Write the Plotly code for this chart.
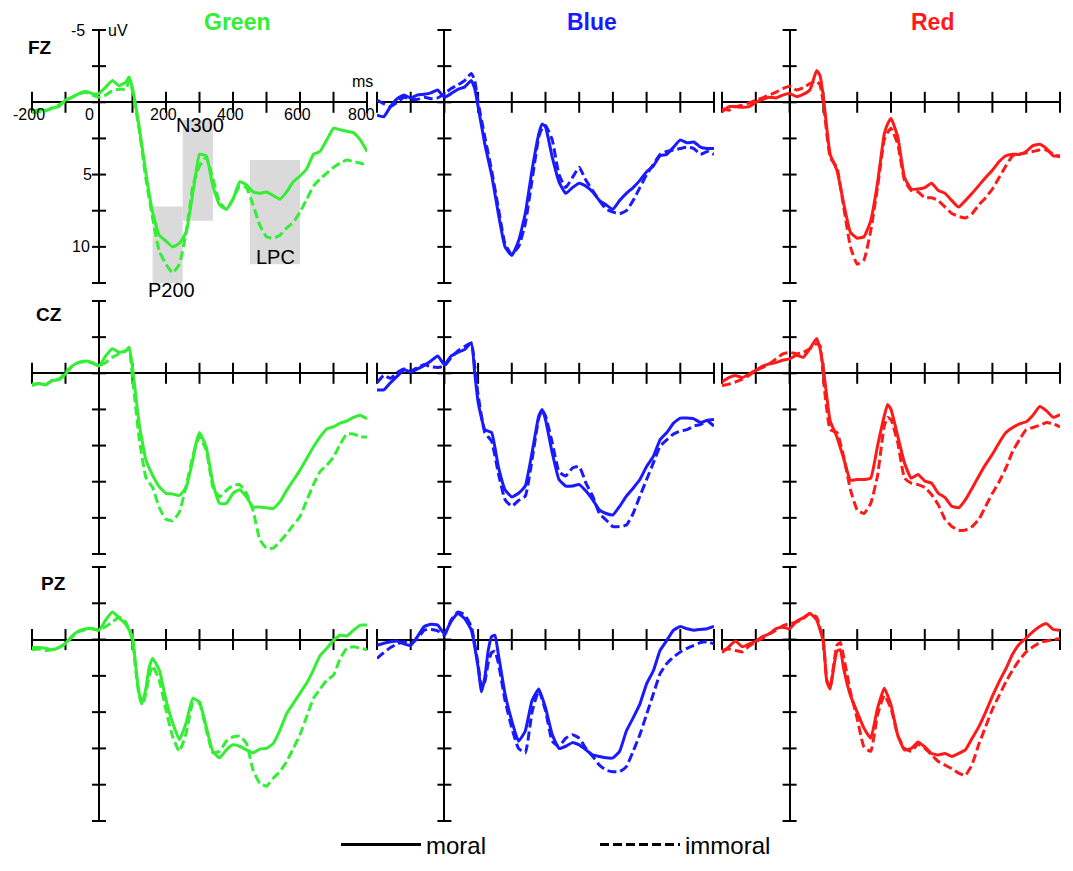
import plotly.graph_objects as go

# ---------------- data (µV, negative plotted upward) ----------------
T_FZ = [-200, -180, -160, -140, -120, -100, -80, -60, -40, -20, 0, 20, 40, 60, 80, 90,
        100, 120, 140, 160, 180, 200, 220, 240, 260, 280, 290,
        300, 320, 340, 360, 380, 400, 420, 440, 460, 480, 500, 520, 540, 560, 580,
        600, 620, 640, 660, 680, 700, 720, 740, 760, 780, 800]
T_CZ = [-200, -180, -160, -140, -120, -100, -80, -60, -40, -20, 0, 20, 40, 60, 80, 90,
        100, 120, 140, 160, 180, 200, 220, 240, 260, 280, 290,
        300, 320, 340, 360, 380, 400, 420, 440, 460, 480, 500, 520, 540, 560, 580,
        600, 620, 640, 660, 680, 700, 720, 740, 760, 780, 800]
T_PZ = [-200, -180, -160, -140, -120, -100, -80, -60, -40, -20, 0, 20, 40, 60, 80, 100,
        110, 120, 130, 140, 150, 160,
        180, 200, 220, 240, 260, 280, 300, 320, 340, 360, 380, 400, 420, 440, 460, 480,
        500, 520, 540, 560, 580, 600, 620, 640, 660, 680, 700, 720, 740, 760, 780, 800]

FZ_GREEN_MORAL = [0.7, 0.5, 0.55, 0.4, 0.3, -0.15, -0.35, -0.6, -0.75, -0.6, -0.6, -1.05, -1.5, -1.15, -1.4, -1.75,
                  -0.95, 1.7, 4.9, 7.6, 9.2, 9.6, 10.0, 9.75, 9.0, 6.3, 4.8,
                  3.6, 3.7, 5.8, 7.1, 7.4, 6.7, 5.5, 5.7, 6.2, 6.3, 6.2, 6.45, 6.7, 6.2, 5.5,
                  5.1, 4.6, 3.6, 3.4, 2.6, 1.8, 1.9, 2.0, 2.1, 2.6, 3.4]
FZ_GREEN_IMMORAL = [0.7, 0.65, 0.6, 0.4, 0.2, -0.1, -0.35, -0.6, -0.7, -0.5, -0.35, -0.5, -0.8, -0.9, -0.9, -1.5,
                    -0.8, 1.9, 5.3, 8.0, 10.3, 11.2, 11.8, 11.2, 9.0, 5.8, 5.0,
                    4.4, 3.8, 5.3, 6.9, 7.4, 6.7, 5.8, 5.9, 7.1, 8.5, 9.3, 9.4, 9.2, 8.7, 8.3,
                    7.6, 6.7, 5.8, 5.3, 4.9, 4.5, 4.2, 4.0, 4.1, 4.2, 4.4]
FZ_BLUE_MORAL = [0.9, 1.0, 0.3, -0.25, -0.5, -0.3, -0.5, -0.55, -0.65, -0.85, -0.35, -0.6, -0.9, -1.05, -1.5, -0.95,
                 0.3, 2.9, 5.0, 7.7, 10.0, 10.6, 9.6, 7.7, 4.7, 2.2, 1.5,
                 1.7, 3.8, 5.5, 6.3, 5.9, 5.6, 5.8, 6.2, 6.8, 7.1, 7.4, 6.8, 6.3, 5.9, 5.4,
                 4.8, 4.4, 3.7, 3.6, 3.1, 2.6, 2.8, 2.75, 3.1, 3.2, 3.2]
FZ_BLUE_IMMORAL = [-0.15, 0.1, 0.3, 0.0, -0.35, -0.2, -0.2, -0.35, -0.25, -0.3, -0.6, -0.95, -1.2, -1.5, -2.0, -1.5,
                   0.0, 2.4, 4.7, 7.3, 9.8, 10.5, 10.0, 8.4, 5.4, 2.4, 1.8,
                   1.6, 2.6, 5.0, 5.9, 5.2, 4.5, 5.4, 6.1, 6.8, 7.4, 7.6, 7.7, 7.5, 6.8, 5.9,
                   5.0, 4.3, 3.6, 3.4, 3.3, 3.2, 3.1, 3.2, 3.6, 3.4, 3.6]
FZ_RED_MORAL = [0.67, 0.3, 0.3, 0.35, 0.3, 0.0, -0.2, -0.35, -0.3, -0.5, -0.6, -0.4, -0.55, -0.85, -2.2, -1.85,
                -0.35, 3.6, 4.7, 7.0, 9.0, 9.4, 9.3, 8.2, 5.6, 2.2, 1.5,
                1.1, 2.4, 5.2, 6.0, 6.0, 5.9, 5.6, 6.1, 6.3, 6.8, 7.25, 6.8, 6.3, 5.75, 5.2,
                4.7, 4.1, 3.7, 3.6, 3.6, 3.4, 3.0, 2.9, 3.2, 3.7, 3.7]
FZ_RED_IMMORAL = [0.45, 0.55, 0.3, 0.2, 0.05, -0.15, -0.3, -0.5, -0.7, -0.95, -1.1, -0.85, -1.0, -1.3, -1.45, -1.2,
                  0.1, 3.8, 4.5, 7.25, 10.0, 11.2, 10.9, 8.9, 5.9, 2.6, 2.1,
                  1.8, 2.9, 5.4, 6.1, 6.2, 6.6, 6.6, 6.8, 7.25, 7.7, 7.9, 8.0, 7.7, 7.1, 6.6,
                  6.0, 5.2, 4.4, 3.7, 3.6, 3.5, 3.4, 3.3, 3.3, 3.6, 3.8]

CZ_GREEN_MORAL = [0.75, 0.7, 0.8, 0.5, 0.45, 0.05, -0.5, -0.75, -0.85, -0.75, -0.5, -1.2, -1.7, -1.45, -1.55, -1.8,
                  -0.4, 3.5, 6.0, 7.05, 7.85, 8.3, 8.35, 8.45, 7.9, 6.0, 4.8,
                  4.1, 5.1, 7.6, 9.0, 9.0, 8.3, 8.05, 8.55, 9.25, 9.25, 9.3, 9.35, 8.9, 8.1, 7.4,
                  6.7, 5.9, 5.1, 4.4, 3.85, 3.7, 3.45, 3.3, 3.05, 2.9, 3.15]
CZ_GREEN_IMMORAL = [0.85, 0.7, 0.8, 0.5, 0.4, -0.05, -0.5, -0.75, -0.8, -0.7, -0.5, -0.75, -1.1, -1.35, -1.55, -1.7,
                    0.3, 4.5, 7.2, 7.9, 9.3, 10.1, 10.2, 9.6, 7.8, 5.75, 4.9,
                    4.4, 5.3, 7.85, 8.55, 8.1, 7.75, 7.7, 8.3, 9.5, 11.5, 12.1, 12.1, 11.65, 11.1, 10.5,
                    9.9, 8.8, 7.7, 6.8, 6.35, 5.8, 4.9, 4.2, 4.2, 4.4, 4.4]
CZ_BLUE_MORAL = [1.15, 1.15, 0.65, 0.2, -0.25, -0.1, -0.3, -0.55, -0.85, -1.2, -0.6, -1.2, -1.45, -1.65, -2.1, 0.0,
                 2.0, 3.9, 4.1, 6.45, 8.05, 8.55, 8.3, 7.8, 5.5, 2.95, 2.5,
                 3.2, 5.5, 7.35, 7.8, 7.8, 7.7, 8.15, 8.75, 9.45, 9.7, 9.8, 9.2, 8.5, 7.95, 7.35,
                 6.45, 5.75, 4.6, 4.1, 3.45, 3.1, 3.1, 3.15, 3.4, 3.25, 3.2]
CZ_BLUE_IMMORAL = [0.65, 0.15, 0.35, -0.05, -0.3, -0.15, -0.4, -0.6, -0.45, -0.4, -0.5, -1.1, -1.55, -1.85, -2.1, -0.5,
                   1.5, 4.1, 4.7, 6.9, 8.75, 9.2, 8.8, 8.5, 6.0, 3.1, 2.55,
                   2.95, 4.8, 6.8, 7.1, 6.55, 6.45, 7.6, 8.5, 9.7, 10.15, 10.6, 10.6, 10.5, 9.7, 8.5,
                   7.35, 6.2, 5.05, 4.6, 4.2, 4.0, 3.9, 3.65, 3.55, 3.3, 3.65]
CZ_RED_MORAL = [0.6, 0.3, 0.15, 0.3, 0.05, -0.2, -0.5, -0.65, -0.75, -0.9, -1.0, -1.25, -1.1, -1.7, -2.4, -1.7,
                -0.3, 3.3, 4.4, 5.9, 7.4, 7.35, 7.35, 7.25, 5.05, 2.95, 2.15,
                2.5, 4.35, 6.2, 7.25, 7.0, 7.45, 7.6, 8.3, 8.6, 9.2, 9.3, 8.75, 7.95, 7.1, 6.3,
                5.6, 4.8, 4.1, 3.75, 3.5, 3.35, 2.9, 2.3, 2.6, 3.05, 2.85]
CZ_RED_IMMORAL = [0.85, 0.75, 0.6, 0.4, 0.15, -0.2, -0.4, -0.65, -1.0, -1.35, -1.45, -1.35, -1.45, -1.7, -2.05, -1.9,
                  0.4, 3.9, 4.1, 5.75, 8.05, 9.45, 9.7, 9.0, 7.1, 3.65, 3.05,
                  3.2, 4.8, 7.25, 7.6, 7.7, 7.9, 8.4, 9.1, 10.1, 10.6, 10.85, 10.85, 10.6, 10.1, 9.2,
                  8.3, 7.5, 6.55, 5.4, 4.6, 3.9, 3.75, 3.6, 3.4, 3.5, 3.7]

PZ_GREEN_MORAL = [0.55, 0.55, 0.6, 0.7, 0.55, 0.25, -0.25, -0.6, -0.75, -0.75, -0.65, -1.35, -1.9, -1.5, -1.05, -0.2,
                  1.9, 3.7, 4.3, 3.35, 1.9, 1.3,
                  2.1, 4.15, 5.75, 6.9, 5.75, 4.05, 4.3, 6.0, 7.7, 8.15, 7.6, 7.25, 7.35, 7.6, 7.8, 7.55,
                  7.5, 7.15, 6.25, 5.1, 4.4, 3.7, 3.0, 2.1, 1.1, 0.6, 0.05, -0.3, -0.25, -0.65, -1.0, -1.0]
PZ_GREEN_IMMORAL = [0.7, 0.65, 0.75, 0.7, 0.55, 0.3, -0.2, -0.55, -0.7, -0.75, -0.65, -0.9, -1.2, -1.55, -1.2, 0.05,
                    2.2, 3.9, 4.5, 3.7, 2.5, 1.8,
                    2.8, 4.85, 6.7, 7.7, 6.45, 4.4, 4.4, 6.2, 7.8, 7.7, 7.0, 6.7, 6.65, 7.15, 9.0, 9.9,
                    10.1, 9.55, 9.1, 8.4, 7.5, 6.55, 5.3, 4.05, 3.4, 2.8, 2.45, 1.3, 0.6, 0.5, 0.6, 0.7]
PZ_BLUE_MORAL = [0.4, 0.25, 0.15, 0.1, 0.3, 0.4, -0.2, -0.9, -1.05, -1.0, -0.4, -1.25, -1.8, -1.45, -0.65, 1.9,
                 3.6, 2.6, 0.75, -0.2, -0.3, 1.0,
                 3.75, 5.6, 7.0, 6.3, 4.2, 3.4, 4.7, 6.55, 7.5, 7.35, 7.1, 7.25, 7.6, 7.95, 8.05, 8.15,
                 8.15, 7.7, 6.3, 5.4, 4.45, 3.05, 2.15, 0.75, 0.05, -0.65, -0.9, -0.75, -0.65, -0.7, -0.75, -0.9]
PZ_BLUE_IMMORAL = [1.3, 0.9, 0.55, 0.3, 0.15, 0.25, -0.05, -0.65, -0.7, -0.6, -0.3, -1.35, -1.9, -1.7, -0.9, 1.7,
                   3.3, 2.9, 1.6, 0.9, 0.8, 1.6,
                   4.2, 6.1, 7.5, 7.8, 5.0, 3.5, 4.9, 7.0, 7.35, 6.8, 6.55, 6.8, 7.5, 8.05, 8.65, 9.0,
                   9.1, 9.1, 8.75, 7.7, 6.55, 5.15, 3.75, 2.35, 1.65, 1.2, 0.85, 0.6, 0.4, 0.2, 0.15, 0.3]
PZ_RED_MORAL = [0.9, 0.5, 0.1, 0.5, 0.3, 0.1, -0.2, -0.4, -0.75, -0.85, -0.75, -1.25, -1.5, -1.8, -1.35, 0.15,
                2.9, 3.4, 2.0, 0.8, 0.7, 2.0,
                3.85, 5.0, 6.1, 6.8, 4.75, 3.35, 4.5, 6.6, 7.6, 7.5, 7.05, 7.4, 7.85, 7.95, 7.85, 8.05,
                7.85, 7.6, 6.8, 6.0, 5.0, 3.9, 2.9, 2.0, 1.0, 0.3, -0.1, -0.55, -0.9, -1.1, -0.7, -0.65]
PZ_RED_IMMORAL = [0.75, 0.65, 0.75, 0.85, 0.45, 0.15, -0.1, -0.4, -0.65, -0.95, -1.1, -1.2, -1.45, -1.8, -1.55, 0.2,
                  2.8, 3.3, 1.8, 0.4, 0.2, 1.2,
                  3.6, 5.45, 7.4, 7.7, 5.2, 3.85, 4.75, 6.6, 7.5, 7.7, 7.2, 7.5, 7.95, 8.4, 8.65, 8.9,
                  9.2, 9.35, 8.6, 7.2, 6.0, 4.8, 3.85, 2.9, 2.1, 1.4, 0.85, 0.5, 0.2, 0.1, 0.0, -0.05]

COLUMNS = ["Green", "Blue", "Red"]
SITES = ["FZ", "CZ", "PZ"]
CONDITIONS = ["moral", "immoral"]
X_TICKS = [-200, -100, 0, 100, 200, 300, 400, 500, 600, 700, 800]
Y_TICKS = [-5, -2.5, 0, 2.5, 5, 7.5, 10, 12.5]
X_TICK_LABELS = [-200, 0, 200, 400, 600, 800]
Y_TICK_LABELS = [-5, 5, 10]
# ERP components: (label, t0, t1, v0, v1)
COMPONENTS = [("P200", 160, 250, 7.2, 12.8), ("N300", 250, 340, 1.2, 8.2), ("LPC", 450, 600, 4.0, 11.2)]

PANELS = [
    (T_FZ, [(FZ_GREEN_MORAL, FZ_GREEN_IMMORAL), (FZ_BLUE_MORAL, FZ_BLUE_IMMORAL), (FZ_RED_MORAL, FZ_RED_IMMORAL)]),
    (T_CZ, [(CZ_GREEN_MORAL, CZ_GREEN_IMMORAL), (CZ_BLUE_MORAL, CZ_BLUE_IMMORAL), (CZ_RED_MORAL, CZ_RED_IMMORAL)]),
    (T_PZ, [(PZ_GREEN_MORAL, PZ_GREEN_IMMORAL), (PZ_BLUE_MORAL, PZ_BLUE_IMMORAL), (PZ_RED_MORAL, PZ_RED_IMMORAL)]),
]
for t, pairs in PANELS:
    for a, b in pairs:
        assert len(a) == len(t) and len(b) == len(t), (len(t), len(a), len(b))

# ---------------- styling ----------------
PAGE_OFF = 8                     # default body margin of the html page
W, H = 1073 - PAGE_OFF, 871 - PAGE_OFF
FONT = "Liberation Sans, Arial, sans-serif"
COLORS = {"Green": "#33ee33", "Blue": "#1a1aff", "Red": "#ff1a1a"}
COL_PX = [(32, 367), (377, 714), (722, 1060)]
ROW_PX = [(30, 283), (301, 554), (567, 821)]
DASH = "9px,4px"


def px_x(px):
    return (px - PAGE_OFF) / W


def px_y(py):
    return 1 - (py - PAGE_OFF) / H


fig = go.Figure()
layout = dict(
    width=W, height=H,
    margin=dict(l=0, r=0, t=0, b=0),
    paper_bgcolor="white", plot_bgcolor="white",
    font=dict(family=FONT, color="black"),
    showlegend=True,
)

for r, (t, pairs) in enumerate(PANELS):
    for c, (moral, immoral) in enumerate(pairs):
        k = r * 3 + c + 1
        xa = "x" if k == 1 else f"x{k}"
        ya = "y" if k == 1 else f"y{k}"
        color = COLORS[COLUMNS[c]]
        x0, x1 = COL_PX[c]
        y0, y1 = ROW_PX[r]
        layout["xaxis" if k == 1 else f"xaxis{k}"] = dict(
            domain=[px_x(x0), px_x(x1)], range=[-200, 800], anchor=ya,
            showgrid=False, zeroline=True, zerolinecolor="black", zerolinewidth=2,
            showticklabels=False, ticks="", showline=False, fixedrange=True)
        layout["yaxis" if k == 1 else f"yaxis{k}"] = dict(
            domain=[px_y(y1), px_y(y0)], range=[12.5, -5], anchor=xa,
            showgrid=False, zeroline=True, zerolinecolor="black", zerolinewidth=2,
            showticklabels=False, ticks="", showline=False, fixedrange=True)
        # crossing tick marks
        fig.add_trace(go.Scatter(
            x=X_TICKS, y=[0] * len(X_TICKS), mode="markers", xaxis=xa, yaxis=ya,
            marker=dict(symbol="line-ns", size=15, line=dict(width=2, color="black")),
            cliponaxis=False, showlegend=False, hoverinfo="skip"))
        fig.add_trace(go.Scatter(
            x=[0] * len(Y_TICKS), y=Y_TICKS, mode="markers", xaxis=xa, yaxis=ya,
            marker=dict(symbol="line-ew", size=10, line=dict(width=2, color="black")),
            cliponaxis=False, showlegend=False, hoverinfo="skip"))
        fig.add_trace(go.Scatter(
            x=t, y=immoral, mode="lines", xaxis=xa, yaxis=ya, name=CONDITIONS[1],
            line=dict(color=color, width=3, dash=DASH, shape="spline", smoothing=0.4),
            showlegend=False, hoverinfo="skip"))
        fig.add_trace(go.Scatter(
            x=t, y=moral, mode="lines", xaxis=xa, yaxis=ya, name=CONDITIONS[0],
            line=dict(color=color, width=3, shape="spline", smoothing=0.4),
            showlegend=False, hoverinfo="skip"))

# legend entries (black)
fig.add_trace(go.Scatter(x=[None], y=[None], mode="lines", name=CONDITIONS[0],
                         line=dict(color="black", width=3), xaxis="x", yaxis="y"))
fig.add_trace(go.Scatter(x=[None], y=[None], mode="lines", name=CONDITIONS[1],
                         line=dict(color="black", width=3, dash=DASH), xaxis="x", yaxis="y"))

layout["legend"] = dict(
    orientation="h", x=px_x(336), xanchor="left", y=px_y(845), yanchor="middle",
    font=dict(size=24, family=FONT, color="black"), itemwidth=80,
    entrywidth=164, entrywidthmode="pixels", bgcolor="rgba(0,0,0,0)")

shapes = []
annotations = []
for label, ta, tb, va, vb in COMPONENTS:
    shapes.append(dict(type="rect", xref="x", yref="y", x0=ta, x1=tb, y0=va, y1=vb,
                       fillcolor="#dadada", line=dict(width=0), layer="below"))
annotations += [
    dict(text="N300", x=300, y=1.6, xref="x", yref="y", showarrow=False,
         font=dict(size=20, color="black"), xanchor="center", yanchor="middle"),
    dict(text="P200", x=215, y=12.4, xref="x", yref="y", showarrow=False, yshift=-8,
         font=dict(size=20, color="black"), xanchor="center", yanchor="middle"),
    dict(text="LPC", x=528, y=10.7, xref="x", yref="y", showarrow=False,
         font=dict(size=20, color="black"), xanchor="center", yanchor="middle"),
]
# tick labels of the first panel
for v in X_TICK_LABELS:
    shift = -10 if v == 0 else (-6 if v == 800 else -3)
    annotations.append(dict(text=str(v), x=v, y=0, xref="x", yref="y", showarrow=False,
                            xanchor="center", yanchor="top", yshift=-2, xshift=shift,
                            font=dict(size=16, color="black")))
for v in Y_TICK_LABELS:
    shift = {-5: -12, 5: -5, 10: -7}[v]
    annotations.append(dict(text=str(v), x=0, y=v, xref="x", yref="y", showarrow=False,
                            xanchor="right", yanchor="middle", xshift=shift,
                            font=dict(size=16, color="black")))
annotations.append(dict(text="uV", x=0, y=-5, xref="x", yref="y", showarrow=False,
                        xanchor="left", yanchor="middle", xshift=7,
                        font=dict(size=16, color="black")))
annotations.append(dict(text="ms", x=800, y=0, xref="x", yref="y", showarrow=False,
                        xanchor="center", yanchor="middle", xshift=-5, yshift=21,
                        font=dict(size=16, color="black")))

# column titles and site labels
TITLE_X = [237, 592, 932]
for name, xc in zip(COLUMNS, TITLE_X):
    annotations.append(dict(text=f"<b>{name}</b>", x=px_x(xc), y=px_y(22), xref="paper", yref="paper",
                            showarrow=False, xanchor="center", yanchor="middle",
                            font=dict(size=23, color=COLORS[name])))
SITE_POS = [(40, 48), (49, 314), (53, 583)]
for site, (xc, yc) in zip(SITES, SITE_POS):
    annotations.append(dict(text=f"<b>{site}</b>", x=px_x(xc), y=px_y(yc), xref="paper", yref="paper",
                            showarrow=False, xanchor="center", yanchor="middle",
                            font=dict(size=19, color="black")))

layout["shapes"] = shapes
layout["annotations"] = annotations
fig.update_layout(**layout)
fig.write_html("out.html")
